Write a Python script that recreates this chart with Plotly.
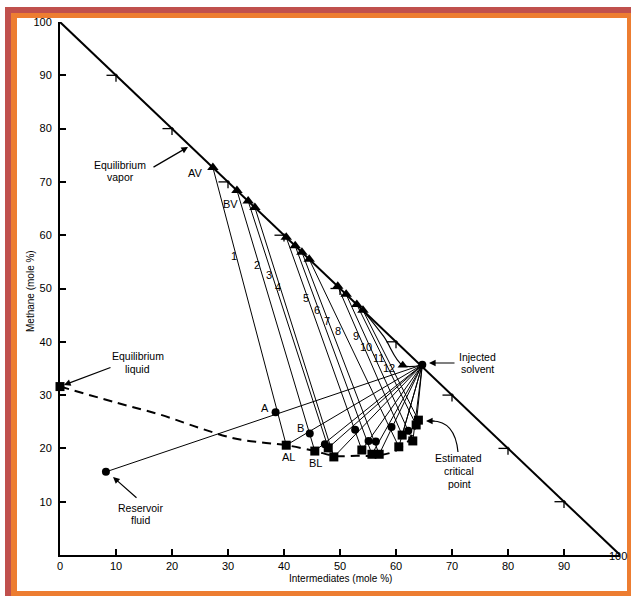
import plotly.graph_objects as go

# ---------------- data ----------------
x_tick_vals = [0, 10, 20, 30, 40, 50, 60, 70, 80, 90]
y_tick_vals = [10, 20, 30, 40, 50, 60, 70, 80, 90, 100]
edge_tick_vals = [10, 20, 30, 40, 50, 60, 70, 80, 90]   # crosses on the 0 % heavy line

tie_labels = ["1", "2", "3", "4", "5", "6", "7", "8", "9", "10", "11", "12"]

# equilibrium vapor compositions (triangles): intermediates %, methane %
vapor_int = [27.3, 31.6, 33.6, 34.8, 40.4, 42.0, 43.2, 44.5, 49.6, 51.1, 53.0, 54.1]
vapor_met = [72.7, 68.4, 66.4, 65.2, 59.6, 58.0, 56.8, 55.5, 50.4, 48.9, 47.0, 45.9]

# equilibrium liquid compositions (squares)
liquid_int = [40.4, 45.5, 47.9, 48.9, 53.9, 55.7, 57.0, 60.5, 61.1, 63.0, 63.6, 64.0]
liquid_met = [20.6, 19.5, 20.1, 18.4, 19.7, 18.9, 18.9, 20.3, 22.5, 21.4, 24.4, 25.3]

# overall mixtures with injected solvent (circles)
mix_int = [38.5, 44.6, 47.3, 52.7, 55.1, 56.4, 59.2, 62.2]
mix_met = [26.8, 22.8, 20.8, 23.5, 21.4, 21.3, 24.0, 23.3]

reservoir_int, reservoir_met = 8.2, 15.6
solvent_int, solvent_met = 64.7, 35.7
eqliq_int, eqliq_met = 0.0, 31.6

# dashed liquid-side phase boundary
bound_int = [0.0, 10.0, 18.0, 25.0, 31.0, 36.0, 40.4, 45.5, 49.0, 53.0, 57.0, 60.0, 62.3, 63.6]
bound_met = [31.6, 28.6, 26.3, 23.8, 21.9, 21.1, 20.6, 19.5, 18.6, 18.6, 18.7, 19.6, 21.5, 24.4]

# vapor-side envelope near the plait point
env_int = [54.1, 57.8, 61.2]
env_met = [45.9, 41.0, 35.6]

# ---------------- geometry ----------------
W, H = 631, 596
ML, MR, MT, MB = 60, 11, 22, 41
PW, PH = W - ML - MR, H - MT - MB


def pp(x, y):
    """pixel position -> paper coordinates"""
    return (x - ML) / PW, (H - MB - y) / PH


BLACK = "black"
FONT = "Liberation Sans, Arial, sans-serif"

fig = go.Figure()

# diagram edge (0 % heavy fraction)
fig.add_trace(go.Scatter(x=[0, 100], y=[100, 0], mode="lines",
                         line=dict(color=BLACK, width=2), hoverinfo="skip"))

# cross ticks on that edge
cx, cy = [], []
for v in edge_tick_vals:
    m = 100 - v
    cx += [v - 1.7, v + 0.3, None, v, v, None]
    cy += [m, m, None, m + 0.3, m - 1.2, None]
fig.add_trace(go.Scatter(x=cx, y=cy, mode="lines",
                         line=dict(color=BLACK, width=1.3), hoverinfo="skip"))

# dashed phase boundary
fig.add_trace(go.Scatter(x=bound_int, y=bound_met, mode="lines",
                         line=dict(color=BLACK, width=2, dash="9px,6px", shape="spline"),
                         hoverinfo="skip"))

# tie lines
tx, ty = [], []
for a, b, c, d in zip(vapor_int, vapor_met, liquid_int, liquid_met):
    tx += [a, c, None]
    ty += [b, d, None]
fig.add_trace(go.Scatter(x=tx, y=ty, mode="lines",
                         line=dict(color=BLACK, width=1), hoverinfo="skip"))

# mixing lines from the injected solvent
fx, fy = [solvent_int, reservoir_int, None], [solvent_met, reservoir_met, None]
for c, d in zip(liquid_int[:-1], liquid_met[:-1]):
    fx += [solvent_int, c, None]
    fy += [solvent_met, d, None]
fig.add_trace(go.Scatter(x=fx, y=fy, mode="lines",
                         line=dict(color=BLACK, width=1), hoverinfo="skip"))

# vapor envelope near plait point
fig.add_trace(go.Scatter(x=env_int + [solvent_int], y=env_met + [solvent_met], mode="lines",
                         line=dict(color=BLACK, width=1.2, shape="spline"), hoverinfo="skip"))
fig.add_trace(go.Scatter(x=env_int[-1:], y=env_met[-1:], mode="markers",
                         marker=dict(symbol="triangle-up", size=9, color=BLACK),
                         cliponaxis=False, hoverinfo="skip"))

# markers
fig.add_trace(go.Scatter(x=vapor_int, y=vapor_met, mode="markers",
                         marker=dict(symbol="triangle-up", size=10, color=BLACK),
                         cliponaxis=False, hoverinfo="skip"))
fig.add_trace(go.Scatter(x=liquid_int + [eqliq_int], y=liquid_met + [eqliq_met], mode="markers",
                         marker=dict(symbol="square", size=9, color=BLACK),
                         cliponaxis=False, hoverinfo="skip"))
fig.add_trace(go.Scatter(x=mix_int + [reservoir_int, solvent_int],
                         y=mix_met + [reservoir_met, solvent_met], mode="markers",
                         marker=dict(symbol="circle", size=8, color=BLACK),
                         cliponaxis=False, hoverinfo="skip"))

# ---------------- text ----------------
ann = []


def label(txt, x, y, size=10, family=FONT, **kw):
    px_, py_ = pp(x, y)
    d = dict(text=txt, x=px_, y=py_, xref="paper", yref="paper", showarrow=False,
             xanchor="center", yanchor="middle",
             font=dict(family=family, size=size, color=BLACK))
    d.update(kw)
    ann.append(d)


def arrow(hx, hy, tx_, ty_):
    px_, py_ = pp(hx, hy)
    ann.append(dict(text="", x=px_, y=py_, xref="paper", yref="paper", showarrow=True,
                    ax=tx_ - hx, ay=ty_ - hy, arrowhead=2, arrowsize=1.1, arrowwidth=1.2,
                    arrowcolor=BLACK, standoff=0, startstandoff=0))


tie_label_px = [(234, 256), (257, 265), (269, 275), (278, 287), (306, 298), (317, 310),
                (327, 321), (338, 331), (356, 336), (366, 347), (378, 358), (389, 368)]
for t, (x, y) in zip(tie_labels, tie_label_px):
    label(t, x, y, size=11)

label("AV", 195, 173, size=11)
label("BV", 230, 204, size=11)
label("A", 265, 408, size=11)
label("B", 300, 428, size=11)
label("AL", 288, 457, size=11)
label("BL", 315, 463, size=11)

label("Equilibrium", 120, 165, size=10.5)
label("vapor", 120, 177, size=10.5)
arrow(188, 147, 152, 168)

label("Equilibrium", 138, 356, size=10.5)
label("liquid", 137, 369, size=10.5)
arrow(64, 385, 112, 367)

label("Reservoir", 140, 508, size=10.5)
label("fluid", 140, 520, size=10.5)
arrow(113, 477, 138, 499)

label("Injected", 477, 357, size=10.5)
label("solvent", 477, 369, size=10.5)
arrow(429, 363, 456, 363)

label("Estimated", 458, 458, size=10.5)
label("critical", 459, 471, size=10.5)
label("point", 459, 484, size=10.5)
arrow(426, 421, 436, 421)

label("Intermediates (mole %)", 340, 578, size=10)
label("Methane (mole %)", 30, 291, size=10, textangle=-90)
label("100", 618, 556, size=11)

# ---------------- shapes: frame and curved arrow ----------------
shapes = []


def rect_px(x0, y0, x1, y1, color):
    a, b = pp(x0, y1)
    c, d = pp(x1, y0)
    shapes.append(dict(type="rect", xref="paper", yref="paper", x0=a, y0=b, x1=c, y1=d,
                       fillcolor=color, line=dict(width=0), layer="below"))


rect_px(5, 7, 660, 640, "#C0504D")
rect_px(11, 13, 660, 640, "#ED7D31")
rect_px(17, 18, 627, 591, "white")

p0, p1, p2 = pp(458, 452), pp(455, 421), pp(432, 421)
shapes.append(dict(type="path", xref="paper", yref="paper",
                   path=f"M {p0[0]},{p0[1]} Q {p1[0]},{p1[1]} {p2[0]},{p2[1]}",
                   line=dict(color=BLACK, width=1.2)))

fig.update_layout(
    width=W, height=H,
    margin=dict(l=ML, r=MR, t=MT, b=MB, pad=0),
    paper_bgcolor="white", plot_bgcolor="rgba(0,0,0,0)",
    showlegend=False,
    annotations=ann, shapes=shapes,
    xaxis=dict(range=[0, 100], tickvals=x_tick_vals, ticks="inside", ticklen=6, tickwidth=1.5,
               tickcolor=BLACK, showline=True, linewidth=2, linecolor=BLACK,
               showgrid=False, zeroline=False,
               tickfont=dict(family=FONT, size=11, color=BLACK)),
    yaxis=dict(range=[0, 100], tickvals=y_tick_vals, ticks="inside", ticklen=6, tickwidth=1.5,
               tickcolor=BLACK, showline=True, linewidth=2, linecolor=BLACK,
               showgrid=False, zeroline=False, ticklabelstandoff=4,
               tickfont=dict(family=FONT, size=11, color=BLACK)),
)

fig.write_html("out.html", config={"displayModeBar": False},
               post_script="document.body.style.margin='0';document.body.style.overflow='hidden';")
